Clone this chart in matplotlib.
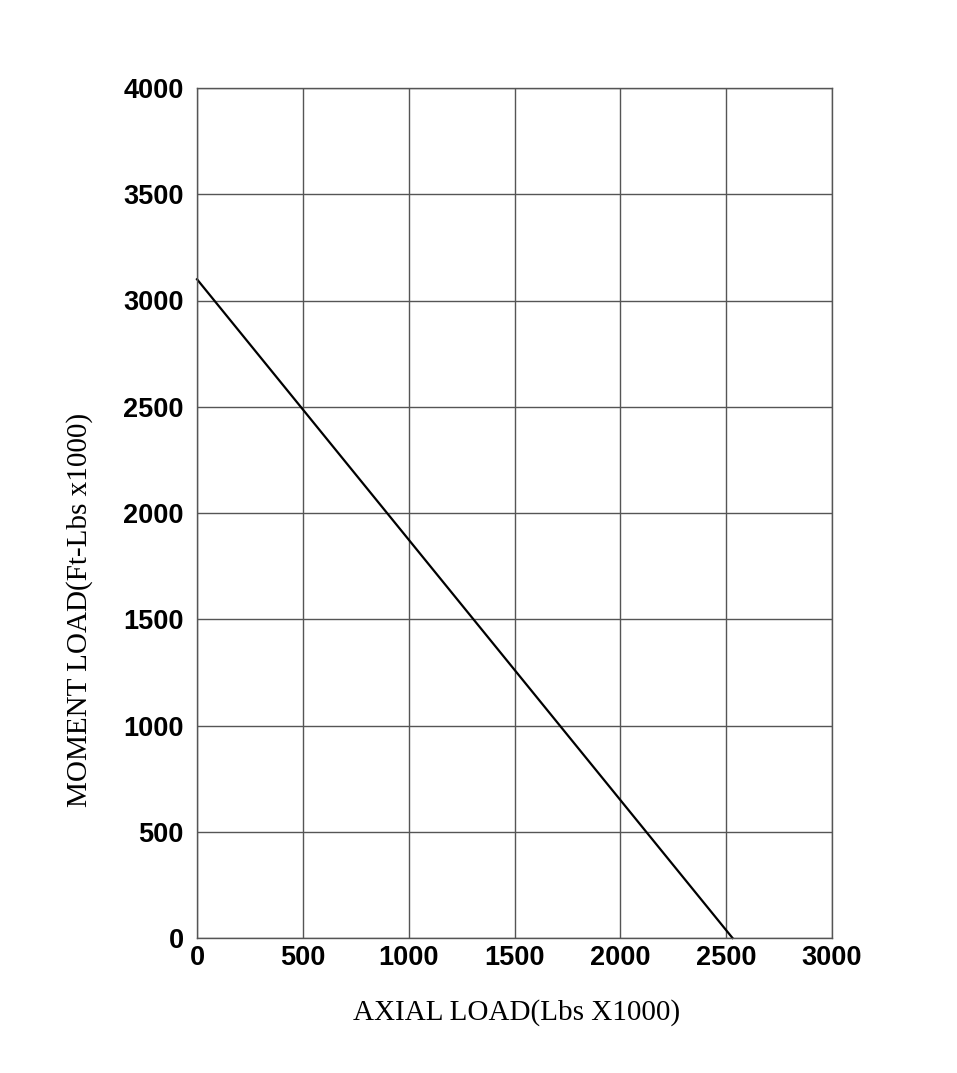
import matplotlib.pyplot as plt
import numpy as np

# data
axial_load = [0, 2530]
moment_load = [3100, 0]
x_ticks = [0, 500, 1000, 1500, 2000, 2500, 3000]
y_ticks = [0, 500, 1000, 1500, 2000, 2500, 3000, 3500, 4000]

W, H = 957, 1073
fig = plt.figure(figsize=(W / 100, H / 100), dpi=100)
ax = fig.add_axes([197 / W, 1 - 938 / H, 635 / W, 850 / H])

ax.plot(axial_load, moment_load, color='black', linewidth=1.6, clip_on=False)
ax.set_xlim(0, 3000)
ax.set_ylim(0, 4000)
ax.set_xticks(x_ticks)
ax.set_yticks(y_ticks)
ax.grid(True, color='#555555', linewidth=1.0)
for s in ax.spines.values():
    s.set_color('#555555')
    s.set_linewidth(1.0)
ax.tick_params(length=0)
ax.tick_params(axis='x', pad=5)
ax.tick_params(axis='y', pad=9.5)

tick_font = dict(family=['Liberation Sans', 'DejaVu Sans'], weight='bold', size=19.5)
ax.set_xticklabels([str(v) for v in x_ticks], **tick_font)
ax.set_yticklabels([str(v) for v in y_ticks], **tick_font)

label_font = dict(family=['Liberation Serif', 'DejaVu Serif'], size=21)
fig.text(517 / W, 1 - 1013 / H, 'AXIAL LOAD(Lbs X1000)', ha='center', va='center', **label_font)
fig.text(80 / W, 1 - 610 / H, 'MOMENT LOAD(Ft-Lbs x1000)', ha='center', va='center',
         rotation=90, **label_font)

fig.savefig('out.png', dpi=100, facecolor='white')
